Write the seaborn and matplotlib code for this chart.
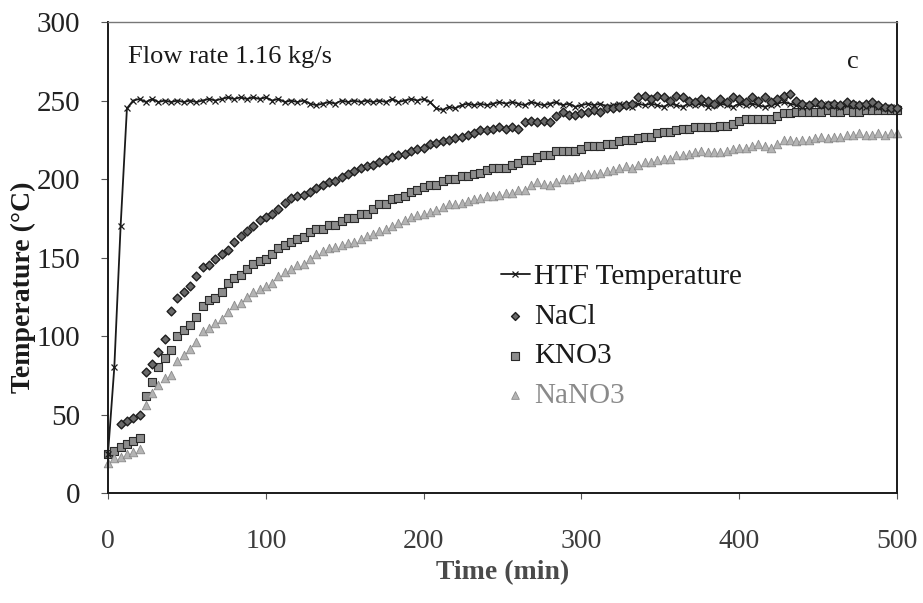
import numpy as np
import pandas as pd
import matplotlib
matplotlib.use("Agg")
import matplotlib.pyplot as plt
import seaborn as sns

# Sampling times (min), one reading every 4 minutes
time_min = list(range(0, 501, 4))

htf_temp = [
    25, 80, 170, 245, 250, 251, 249, 251, 249, 250,
    249, 250, 249, 250, 249, 250, 251, 250, 251, 252,
    251, 252, 251, 252, 251, 252, 250, 251, 249, 250,
    249, 250, 248, 247, 248, 249, 248, 250, 249, 250,
    249, 250, 249, 250, 249, 251, 249, 250, 251, 250,
    251, 249, 245, 244, 246, 245, 247, 248, 247, 248,
    247, 248, 249, 248, 249, 248, 247, 249, 248, 247,
    248, 249, 247, 248, 246, 247, 248, 247, 248, 246,
    247, 248, 247, 246, 248, 247, 248, 247, 246, 248,
    247, 246, 248, 247, 248, 246, 247, 248, 247, 246,
    248, 247, 248, 247, 246, 247, 248, 249, 248, 247,
    246, 247, 248, 247, 248, 247, 246, 247, 248, 247,
    246, 247, 246, 245, 246, 245,
]

nacl_temp = [
    np.nan, np.nan, 44, 46, 48, 50, 77, 82, 90, 98,
    116, 124, 128, 132, 138, 144, 145, 149, 152, 155,
    160, 164, 167, 170, 174, 176, 178, 181, 185, 188,
    189, 190, 192, 194, 196, 198, 199, 201, 203, 205,
    207, 208, 209, 211, 212, 214, 215, 216, 218, 219,
    220, 222, 223, 224, 225, 226, 227, 228, 229, 231,
    231, 232, 233, 232, 233, 232, 236, 237, 236, 237,
    236, 240, 243, 241, 241, 242, 243, 244, 243, 245,
    245, 246, 247, 248, 252, 253, 251, 253, 252, 250,
    253, 252, 250, 249, 251, 250, 248, 251, 249, 252,
    251, 249, 252, 250, 252, 249, 251, 253, 254, 250,
    248, 247, 249, 248, 247, 248, 247, 249, 248, 247,
    248, 249, 247, 246, 245, 245,
]

kno3_temp = [
    25, 27, 29, 31, 33, 35, 62, 71, 80, 86,
    91, 100, 104, 107, 112, 119, 123, 124, 128, 134,
    137, 139, 143, 146, 148, 149, 152, 156, 158, 160,
    162, 163, 166, 168, 168, 171, 171, 173, 175, 175,
    178, 178, 181, 184, 184, 187, 188, 189, 192, 193,
    195, 196, 196, 199, 200, 200, 202, 202, 203, 204,
    206, 207, 207, 207, 209, 210, 212, 212, 214, 215,
    215, 218, 218, 218, 218, 219, 221, 221, 221, 222,
    222, 224, 225, 225, 226, 227, 227, 229, 230, 230,
    231, 232, 232, 233, 233, 233, 233, 234, 234, 235,
    237, 238, 238, 238, 238, 238, 240, 242, 242, 243,
    243, 243, 243, 243, 244, 243, 243, 244, 243, 243,
    244, 244, 244, 244, 244, 244,
]

nano3_temp = [
    19, 22, 23, 25, 26, 28, 56, 64, 69, 73,
    75, 84, 88, 92, 96, 103, 105, 108, 111, 115,
    120, 121, 125, 128, 130, 132, 134, 138, 141, 143,
    145, 146, 149, 152, 154, 156, 157, 158, 159, 160,
    162, 164, 165, 167, 168, 170, 172, 174, 176, 177,
    178, 179, 180, 182, 184, 184, 185, 186, 187, 188,
    189, 189, 190, 191, 191, 193, 193, 196, 198, 197,
    196, 198, 200, 200, 201, 202, 203, 203, 204, 205,
    206, 207, 208, 207, 209, 211, 211, 212, 213, 213,
    215, 215, 216, 217, 218, 217, 217, 217, 218, 219,
    220, 220, 221, 222, 221, 220, 222, 225, 225, 224,
    225, 225, 226, 227, 226, 227, 227, 228, 228, 229,
    228, 228, 229, 228, 229, 229,
]

x_ticks = [0, 100, 200, 300, 400, 500]
y_ticks = [0, 50, 100, 150, 200, 250, 300]

df = pd.DataFrame({
    "time": time_min,
    "HTF Temperature": htf_temp,
    "NaCl": nacl_temp,
    "KNO3": kno3_temp,
    "NaNO3": nano3_temp,
})

sns.set_style("ticks")
plt.rcParams["font.family"] = ["Liberation Serif", "DejaVu Serif"]

fig = plt.figure(figsize=(9.23, 6.03), dpi=100)
ax = fig.add_axes([0.117, 0.1824, 0.855, 0.7811])

sns.lineplot(data=df, x="time", y="HTF Temperature", ax=ax, color="#1a1a1a",
             linewidth=1.3, marker="x", markersize=4.5, markeredgewidth=0.9,
             markeredgecolor="#1a1a1a", label="HTF Temperature", zorder=3,
             clip_on=False)
sns.scatterplot(data=df, x="time", y="NaCl", ax=ax, marker="D", s=20,
                color="#6a6a6a", edgecolor="#1e1e1e", linewidth=1.0,
                label="NaCl", zorder=4, clip_on=False)
sns.scatterplot(data=df, x="time", y="KNO3", ax=ax, marker="s", s=40,
                color="#8c8c8c", edgecolor="#2a2a2a", linewidth=0.8,
                label="KNO3", zorder=2, clip_on=False)
sns.scatterplot(data=df, x="time", y="NaNO3", ax=ax, marker="^", s=38,
                color="#b4b4b4", edgecolor="#8a8a8a", linewidth=0.6,
                label="NaNO3", zorder=2, clip_on=False)

ax.set_xlim(0, 500)
ax.set_ylim(0, 300)
ax.set_xticks(x_ticks)
ax.set_yticks(y_ticks)
ax.tick_params(axis="x", direction="out", length=4, width=0.8, pad=22,
               labelsize=20, labelcolor="#3c3c3c", color="#555555")
ax.tick_params(axis="y", direction="out", length=5, width=0.8, pad=15,
               labelsize=21, labelcolor="#222222", color="#555555")

for side in ["left", "right", "bottom"]:
    ax.spines[side].set_visible(True)
    ax.spines[side].set_color("#1a1a1a")
    ax.spines[side].set_linewidth(1.4)
ax.spines["top"].set_visible(True)
ax.spines["top"].set_color("#777777")
ax.spines["top"].set_linewidth(1.0)

ax.set_xlabel("Time (min)", fontsize=20, fontweight="bold", color="#4a4a4a",
              labelpad=4)
ax.set_ylabel("Temperature (°C)", fontsize=20, fontweight="bold",
              color="#1a1a1a")
ax.yaxis.set_label_coords(-0.107, 0.437)
ax.yaxis.label.set_va("center")

ax.text(0.025, 0.926, "Flow rate 1.16 kg/s", transform=ax.transAxes,
        fontsize=19, color="#1a1a1a", ha="left", va="center")
ax.text(0.944, 0.915, "c", transform=ax.transAxes,
        fontsize=19, color="#1a1a1a", ha="center", va="center")

leg = ax.legend(loc="upper left", bbox_to_anchor=(0.472, 0.53), frameon=False,
                fontsize=21, handlelength=1.0, handletextpad=0.15,
                labelspacing=0.45, borderpad=0.2, markerscale=0.9)
for txt in leg.get_texts():
    txt.set_color("#1a1a1a")
leg.get_texts()[3].set_color("#8a8a8a")

fig.savefig("out.png", dpi=100, facecolor="white")
